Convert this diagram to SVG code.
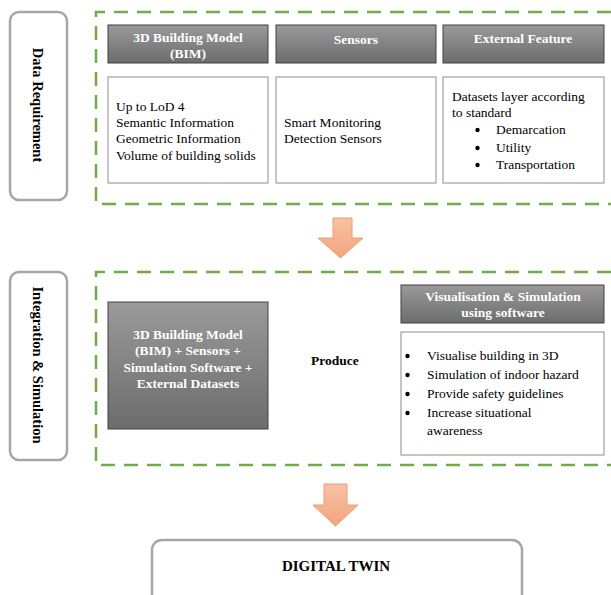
<svg xmlns="http://www.w3.org/2000/svg" width="611" height="595" viewBox="0 0 611 595">
<defs>
<linearGradient id="gHead" x1="0" y1="0" x2="0" y2="1">
<stop offset="0" stop-color="#9a9a9a"/><stop offset="1" stop-color="#6c6c6c"/>
</linearGradient>
<linearGradient id="gArrow" x1="0" y1="0" x2="0" y2="1">
<stop offset="0" stop-color="#f6c2a6"/><stop offset="1" stop-color="#f3a47c"/>
</linearGradient>
</defs>
<style>
text{font-family:"Liberation Serif","Times New Roman",serif;fill:#000}
.stage{fill:#fff;stroke:#a6a6a6;stroke-width:2.5}
.dash{fill:none;stroke:#70ad47;stroke-width:2.5;stroke-dasharray:14,9}
.head{fill:url(#gHead);stroke:#404040;stroke-width:1}
.body{fill:#fff;stroke:#8c8c8c;stroke-width:1}
.ht{font-size:13.5px;font-weight:bold;fill:#fff;text-anchor:middle}
.bt{font-size:13.5px}
.bu{fill:#000;stroke:none}
.lab{font-size:14.5px;font-weight:bold;text-anchor:middle}
.arrow{fill:url(#gArrow);stroke:#f19c6f;stroke-width:1}
</style>

<g id="stage-data">
<rect class="stage" x="10" y="12" width="57" height="188" rx="9"/>
<text class="lab" transform="translate(38,105) rotate(90)" dy="5">Data Requirement</text>
</g>
<g id="stage-integration">
<rect class="stage" x="10" y="272" width="57" height="188" rx="9"/>
<text class="lab" transform="translate(38,365) rotate(90)" dy="5">Integration &amp; Simulation</text>
</g>

<g id="group-data">
<path class="dash" d="M611,12 H96 V204 H611"/>
</g>
<g id="group-integration">
<path class="dash" d="M611,272 H96 V465 H611"/>
</g>

<g id="bim-header">
<rect class="head" x="108" y="25" width="160" height="38"/>
<text class="ht" x="188" y="42">3D Building Model</text>
<text class="ht" x="188" y="58">(BIM)</text>
</g>
<g id="sensors-header">
<rect class="head" x="276" y="25" width="160" height="38"/>
<text class="ht" x="356" y="44">Sensors</text>
</g>
<g id="external-header">
<rect class="head" x="443" y="25" width="161" height="38"/>
<text class="ht" x="523" y="43">External Feature</text>
</g>

<g id="bim-body">
<rect class="body" x="108" y="77" width="160" height="106"/>
<text class="bt" x="116" y="111">Up to LoD 4</text>
<text class="bt" x="116" y="127">Semantic Information</text>
<text class="bt" x="116" y="143">Geometric Information</text>
<text class="bt" x="116" y="160">Volume of building solids</text>
</g>
<g id="sensors-body">
<rect class="body" x="276" y="77" width="160" height="106"/>
<text class="bt" x="284" y="127">Smart Monitoring</text>
<text class="bt" x="284" y="143">Detection Sensors</text>
</g>
<g id="external-body">
<rect class="body" x="443" y="77" width="161" height="106"/>
<text class="bt" x="452" y="101">Datasets layer according</text>
<text class="bt" x="452" y="117">to standard</text>
<circle class="bu" cx="477.5" cy="130" r="2.2"/><text class="bt" x="496" y="134">Demarcation</text>
<circle class="bu" cx="477.5" cy="148" r="2.2"/><text class="bt" x="496" y="152">Utility</text>
<circle class="bu" cx="477.5" cy="165" r="2.2"/><text class="bt" x="496" y="169">Transportation</text>
</g>

<g id="combined">
<rect class="head" x="108" y="302" width="160" height="127"/>
<text class="ht" x="188" y="339">3D Building Model</text>
<text class="ht" x="188" y="355">(BIM) + Sensors +</text>
<text class="ht" x="188" y="372">Simulation Software +</text>
<text class="ht" x="188" y="388">External Datasets</text>
</g>

<g id="produce">
<text x="311" y="365" style="font-size:13.5px;font-weight:bold">Produce</text>
</g>

<g id="vis-header">
<rect class="head" x="401" y="285" width="203" height="38"/>
<text class="ht" x="503" y="301">Visualisation &amp; Simulation</text>
<text class="ht" x="503" y="317">using software</text>
</g>
<g id="vis-body">
<rect class="body" x="401" y="332" width="203" height="123"/>
<circle class="bu" cx="407.5" cy="356" r="2.2"/><text class="bt" x="427" y="360">Visualise building in 3D</text>
<circle class="bu" cx="407.5" cy="375" r="2.2"/><text class="bt" x="427" y="379">Simulation of indoor hazard</text>
<circle class="bu" cx="407.5" cy="394" r="2.2"/><text class="bt" x="427" y="398">Provide safety guidelines</text>
<circle class="bu" cx="407.5" cy="413" r="2.2"/><text class="bt" x="427" y="417">Increase situational</text>
<text class="bt" x="427" y="435">awareness</text>
</g>

<g id="connectors">
<path class="arrow" d="M333,218 H352 V238 H363 L340.5,258 L318,238 H333 Z"/>
<path class="arrow" d="M324,484 H347 V505 H358 L335.5,526 L313,505 H324 Z"/>
</g>

<g id="digital-twin">
<rect class="stage" x="152" y="540" width="370" height="70" rx="10"/>
<text x="336" y="571" style="font-size:15px;font-weight:bold;text-anchor:middle">DIGITAL TWIN</text>
</g>
</svg>
